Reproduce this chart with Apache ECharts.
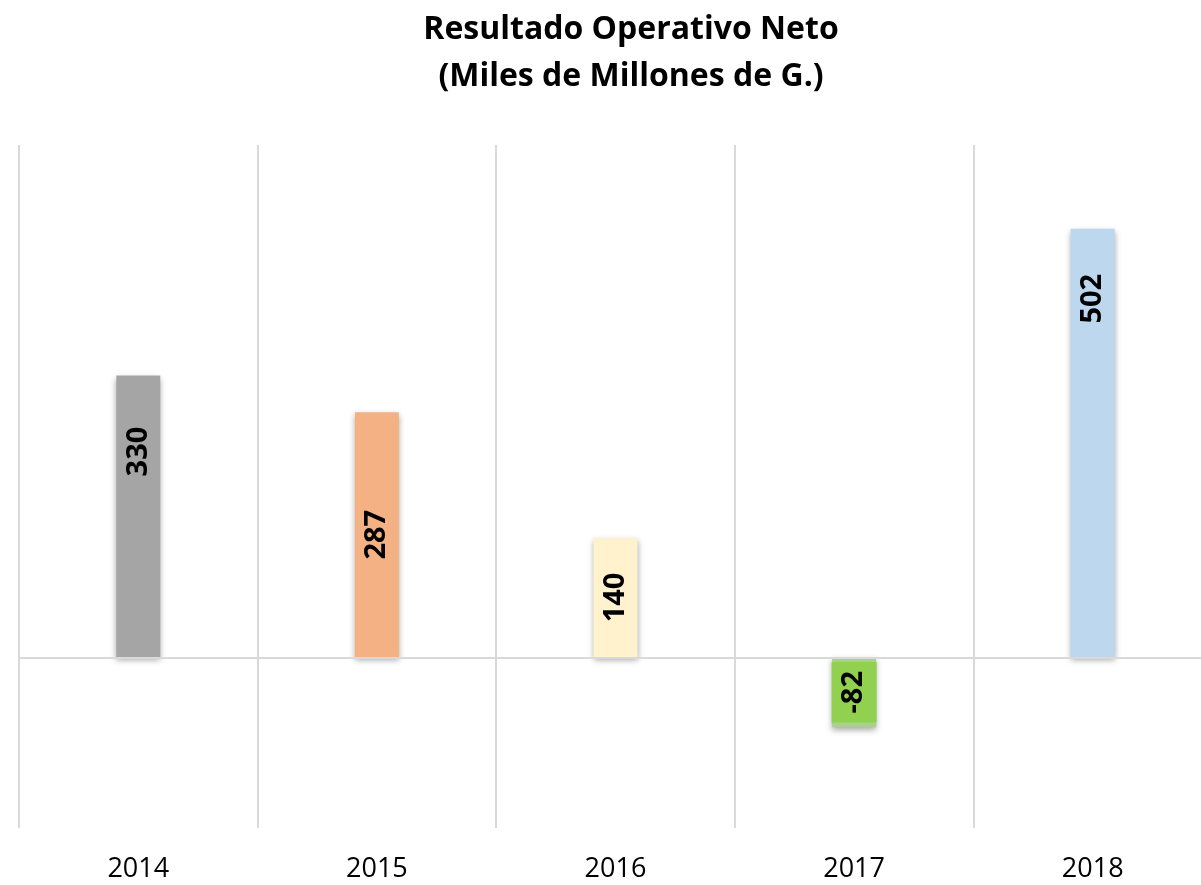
<!DOCTYPE html>
<html>
<head>
<meta charset="utf-8">
<script src="https://cdn.jsdelivr.net/npm/echarts@6/dist/echarts.min.js"></script>
<style>
  html, body { margin: 0; padding: 0; background: #fff; }
  #chart { width: 1201px; height: 885px; }
</style>
</head>
<body>
<div id="chart"></div>
<script>
// Données
const years = ['2014', '2015', '2016', '2017', '2018'];
const resultado = [330, 287, 140, -82, 502];
const barColors = ['#a5a5a5', '#f4b183', '#fff2cc', '#a9d18e', '#bdd7ee'];

const chart = echarts.init(document.getElementById('chart'));
const font = '"Open Sans", sans-serif';

// Position des étiquettes : certaines près du haut, les autres au centre
const labelFor = (i) => {
    const base = {
        show: true,
        rotate: 90,
        fontFamily: font,
        fontWeight: 'bold',
        fontSize: 29,
        color: '#000'
    };
    if (i === 0) return { ...base, position: ['50%', 76], align: 'center', verticalAlign: 'middle' };
    if (i === 4) return { ...base, position: ['50%', 70], align: 'center', verticalAlign: 'middle' };
    if (i === 3) return { ...base, position: 'inside', backgroundColor: '#92d050', padding: [8, 9] };
    return { ...base, position: 'inside' };
};

const option = {
    backgroundColor: '#fff',
    animation: false,
    title: {
        text: 'Resultado Operativo Neto\n(Miles de Millones de G.)',
        left: 626,
        top: 1,
        textAlign: 'center',
        textStyle: {
            fontFamily: font,
            fontWeight: 'bold',
            fontSize: 32,
            lineHeight: 47,
            color: '#000'
        }
    },
    grid: { left: 19, width: 1193, top: 145, bottom: 57, outerBoundsMode: 'none' },
    xAxis: {
        type: 'category',
        data: years,
        axisLine: { show: false },
        axisTick: { show: false },
        axisLabel: { fontFamily: font, fontSize: 27, color: '#000', margin: 28 },
        splitLine: { show: true, lineStyle: { color: '#d9d9d9', width: 2 } }
    },
    yAxis: {
        type: 'value',
        min: -200,
        max: 600,
        show: false
    },
    series: [{
        type: 'bar',
        barWidth: 44,
        data: resultado.map((v, i) => ({
            value: v,
            itemStyle: {
                color: barColors[i],
                shadowColor: 'rgba(0,0,0,0.35)',
                shadowBlur: 6,
                shadowOffsetY: 3
            },
            label: labelFor(i)
        })),
        markLine: {
            silent: true,
            symbol: 'none',
            label: { show: false },
            lineStyle: { color: '#d9d9d9', width: 2, type: 'solid' },
            data: [{ yAxis: 0 }]
        }
    }]
};

chart.setOption(option);
</script>
</body>
</html>
